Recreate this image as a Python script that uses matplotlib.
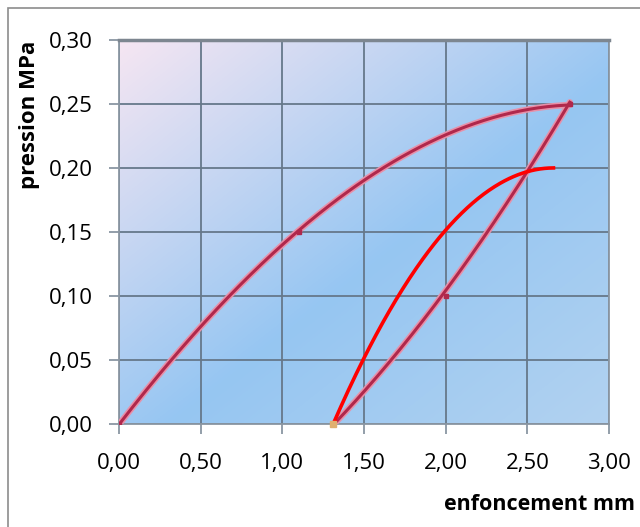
import numpy as np
import matplotlib.pyplot as plt
from matplotlib.patches import Rectangle
from matplotlib.ticker import FuncFormatter

plt.rcParams['font.family'] = ['Open Sans', 'DejaVu Sans']

# loading branch (dark red)
load_x = [0.0, 0.50, 0.70, 1.08, 1.5, 2.0, 2.5, 2.76]
load_y = [0.0, 0.077, 0.100, 0.150, 0.193, 0.224, 0.245, 0.250]
# unloading branch (dark red)
unload_x = [2.76, 2.5, 2.25, 2.0, 1.65, 1.32]
unload_y = [0.250, 0.200, 0.150, 0.100, 0.050, 0.0]
# second curve (bright red)
red_x = [1.31, 1.50, 1.70, 2.0, 2.31, 2.5, 2.66]
red_y = [0.0, 0.050, 0.100, 0.150, 0.187, 0.197, 0.200]
# measured points
pt_x = [0.0, 1.1, 2.76, 2.0]
pt_y = [0.0, 0.15, 0.25, 0.10]

xticks = [0, 0.5, 1.0, 1.5, 2.0, 2.5, 3.0]
yticks = [0, 0.05, 0.10, 0.15, 0.20, 0.25, 0.30]


def smooth(x, y, deg=3):
    # smooth trend line through the read points
    c = np.polyfit(x, y, deg)
    xs = np.linspace(min(x), max(x), 200)
    return xs, np.polyval(c, xs)


fig = plt.figure(figsize=(6.4, 5.27), dpi=100)
fig.patches.append(Rectangle((8 / 640, -0.1), 1.2, 1 - 8 / 527 + 0.1, transform=fig.transFigure,
                             fill=False, edgecolor='#8c8c8c', lw=1.2))
ax = fig.add_axes([119 / 640, 1 - 424 / 527, 490 / 640, 384 / 527])

# background gradient, pink top-left to blue
u, v = np.meshgrid(np.linspace(0, 1, 300), np.linspace(0, 1, 300))
d = (u + v) / 2
c0 = np.array([246, 230, 243]) / 255
c1 = np.array([150, 198, 242]) / 255
c2 = np.array([178, 210, 240]) / 255
a = np.clip(d / 0.55, 0, 1)[..., None]
b = np.clip((d - 0.55) / 0.45, 0, 1)[..., None]
img = np.where(d[..., None] < 0.55, c0 * (1 - a) + c1 * a, c1 * (1 - b) + c2 * b)
ax.imshow(img, extent=[0, 3, 0, 0.3], origin='upper', aspect='auto', zorder=0)

ax.set_xlim(0, 3)
ax.set_ylim(0, 0.3)
ax.set_xticks(xticks)
ax.set_yticks(yticks)
ax.xaxis.set_major_formatter(FuncFormatter(lambda v, p: f'{v:.2f}'.replace('.', ',')))
ax.yaxis.set_major_formatter(FuncFormatter(lambda v, p: f'{v:.2f}'.replace('.', ',')))
ax.grid(True, color='#66788a', lw=1.3)
ax.set_axisbelow(True)
ax.tick_params(length=7, width=1.3, color='#8a96a2', labelsize=16, pad=12)
ax.tick_params(axis='x', pad=14)
for s in ax.spines.values():
    s.set_color('#8a96a2')
    s.set_linewidth(1.3)
ax.spines['top'].set_color('#7d8690')
ax.spines['top'].set_linewidth(2.5)

sx, sy = smooth(load_x, load_y)
ax.plot(sx, sy, color='#e890a8', lw=4.5, solid_capstyle='round', zorder=3)
ax.plot(sx, sy, color='#b0284c', lw=2.2, zorder=4)
sx, sy = smooth(unload_x, unload_y, 2)
ax.plot(sx, sy, color='#e890a8', lw=4.5, solid_capstyle='round', zorder=3)
ax.plot(sx, sy, color='#b0284c', lw=2.2, zorder=4)
ax.plot(pt_x, pt_y, 's', color='#b0284c', ms=3, zorder=5)
sx, sy = smooth(red_x, red_y)
ax.plot(sx, sy, color='#ff0000', lw=2.6, zorder=6)
ax.plot([red_x[0]], [red_y[0]], 's', color='#e0b070', ms=5, zorder=7, clip_on=False)

fig.text(30 / 640, 1 - 115 / 527, 'pression MPa', rotation=90, fontsize=16, fontweight='bold',
         ha='center', va='center')
fig.text(444 / 640, 1 - 505 / 527, 'enfoncement mm', fontsize=15.5, fontweight='bold',
         ha='left', va='center')

fig.savefig('out.png', dpi=100)
